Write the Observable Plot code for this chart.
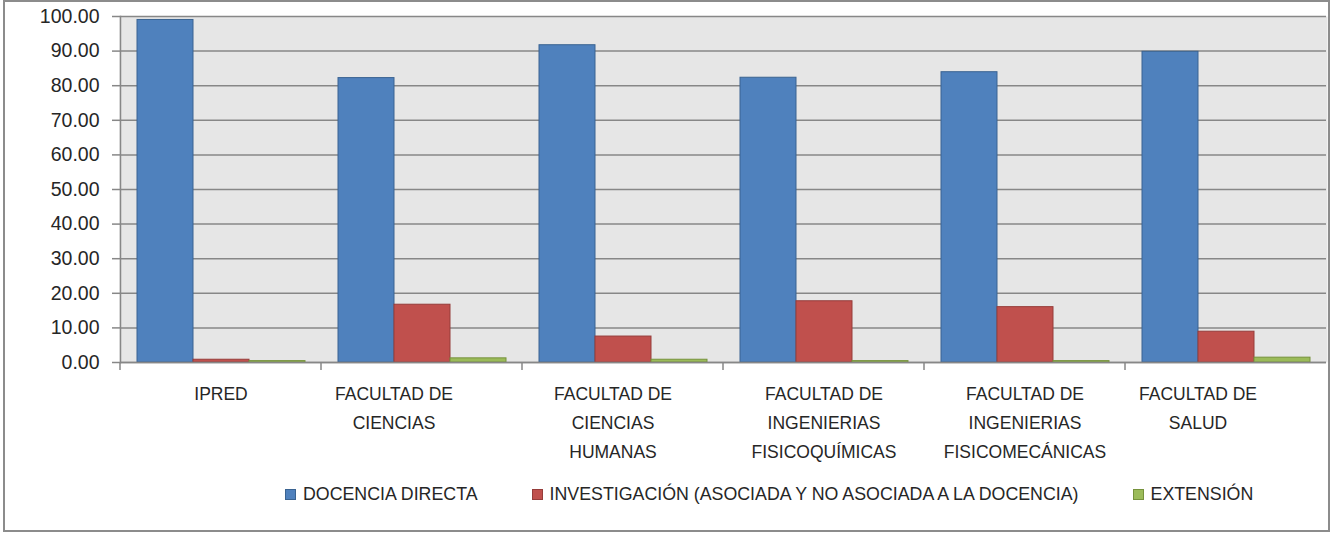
<!DOCTYPE html>
<html>
<head>
<meta charset="utf-8">
<script src="https://cdn.jsdelivr.net/npm/d3@7"></script>
<script src="https://cdn.jsdelivr.net/npm/@observablehq/plot@0.6"></script>
<style>
  html, body { margin: 0; padding: 0; background: #fff; }
  #wrap { position: relative; width: 1330px; height: 533px; overflow: hidden; }
  #border { position: absolute; left: 3px; top: 0; width: 1327px; height: 532px; box-sizing: border-box; border: 2px solid #8c8c8c; pointer-events: none; }
  #legend { position: absolute; left: 285px; top: 484px; display: flex; align-items: center;
    font-family: "Liberation Sans", Arial, sans-serif; font-size: 17.8px; color: #262626; white-space: nowrap; }
  .item { display: flex; align-items: center; margin-right: 54px; }
  .sw { width: 9px; height: 9px; border: 1px solid; margin-right: 7px; }
</style>
</head>
<body>
<div id="wrap"><div id="chart"></div><div id="legend"></div><div id="border"></div></div>
<script>
const categories = ["IPRED", "FACULTAD DE CIENCIAS", "FACULTAD DE CIENCIAS HUMANAS", "FACULTAD DE INGENIERIAS FISICOQUÍMICAS", "FACULTAD DE INGENIERIAS FISICOMECÁNICAS", "FACULTAD DE SALUD"];
const categoryLabels = ["IPRED", "FACULTAD DE\nCIENCIAS", "FACULTAD DE\nCIENCIAS\nHUMANAS", "FACULTAD DE\nINGENIERIAS\nFISICOQUÍMICAS", "FACULTAD DE\nINGENIERIAS\nFISICOMECÁNICAS", "FACULTAD DE\nSALUD"];
const series = ["DOCENCIA DIRECTA", "INVESTIGACIÓN (ASOCIADA Y NO ASOCIADA A LA DOCENCIA)", "EXTENSIÓN"];
const docencia = [99.0, 82.2, 91.7, 82.3, 83.9, 89.8];
const investigacion = [0.8, 16.7, 7.5, 17.7, 16.0, 8.9];
const extension = [0.4, 1.2, 0.8, 0.4, 0.4, 1.4];
const yTicks = [0, 10, 20, 30, 40, 50, 60, 70, 80, 90, 100];

const fills = ["#4f81bd", "#c0504d", "#9bbb59"];
const strokes = ["#3a6391", "#963c3a", "#76923c"];
const gridColor = "#878787";

const valuesBySeries = [docencia, investigacion, extension];
const rows = [];
categories.forEach((c, i) => series.forEach((s, j) => rows.push({facultad: c, serie: s, valor: valuesBySeries[j][i], k: j})));

const boundaryTicks = (index, scales, values, dims) => {
  const y0 = dims.height - dims.marginBottom;
  const g = d3.create("svg:g");
  g.append("line").attr("x1", dims.marginLeft).attr("x2", dims.marginLeft)
    .attr("y1", y0).attr("y2", y0 + 8).attr("stroke", gridColor).attr("stroke-width", 1.5);
  return g.node();
};

// Excel places some wrapped labels left of the band centre
const labelGroups = [
  {members: [categories[0], categories[3], categories[4]], dx: 0},
  {members: [categories[2]], dx: -10},
  {members: [categories[1], categories[5]], dx: -28}
];
const labelAxes = labelGroups.map(({members, dx}) => Plot.axisFx({
  anchor: "bottom", tickSize: 0, tickPadding: 17, dx,
  tickFormat: d => members.includes(d) ? categoryLabels[categories.indexOf(d)] : "",
  lineHeight: 1.66, fontSize: 17.5, fill: "#262626", label: null
}));

const chart = Plot.plot({
  width: 1330,
  height: 533,
  marginLeft: 118,
  marginRight: 2,
  marginTop: 16,
  marginBottom: 171,
  style: {fontFamily: "'Liberation Sans', Arial, sans-serif", fontSize: "17.5px", color: "#262626", background: "transparent", overflow: "visible"},
  fx: {domain: categories, padding: 0},
  x: {domain: series, paddingInner: 0, paddingOuter: 0.27, axis: null},
  y: {domain: [0, 100]},
  color: {type: "identity"},
  marks: [
    Plot.frame({fill: "#e6e6e6", stroke: "none", insetLeft: -1, insetRight: -1}),
    Plot.gridY(yTicks, {stroke: gridColor, strokeOpacity: 1, strokeWidth: 1.5}),
    Plot.barY(rows, {fx: "facultad", x: "serie", y: "valor", fill: d => fills[d.k], stroke: d => strokes[d.k], strokeWidth: 1}),
    Plot.ruleY([0], {stroke: gridColor, strokeWidth: 1.5}),
    Plot.frame({anchor: "left", facetAnchor: "left", stroke: gridColor, strokeWidth: 1.5}),
    boundaryTicks,
    Plot.axisY(yTicks, {tickFormat: d3.format(".2f"), tickSize: 8, tickPadding: 13, stroke: gridColor, strokeWidth: 1.5, fill: "#262626", fontSize: 19.5, label: null}),
    ...labelAxes
  ]
});
document.getElementById("chart").appendChild(chart);

const legend = document.getElementById("legend");
series.forEach((s, j) => {
  const item = document.createElement("div");
  item.className = "item";
  const sw = document.createElement("span");
  sw.className = "sw";
  sw.style.background = fills[j];
  sw.style.borderColor = strokes[j];
  const t = document.createElement("span");
  t.textContent = s;
  item.appendChild(sw); item.appendChild(t);
  legend.appendChild(item);
});
</script>
</body>
</html>
